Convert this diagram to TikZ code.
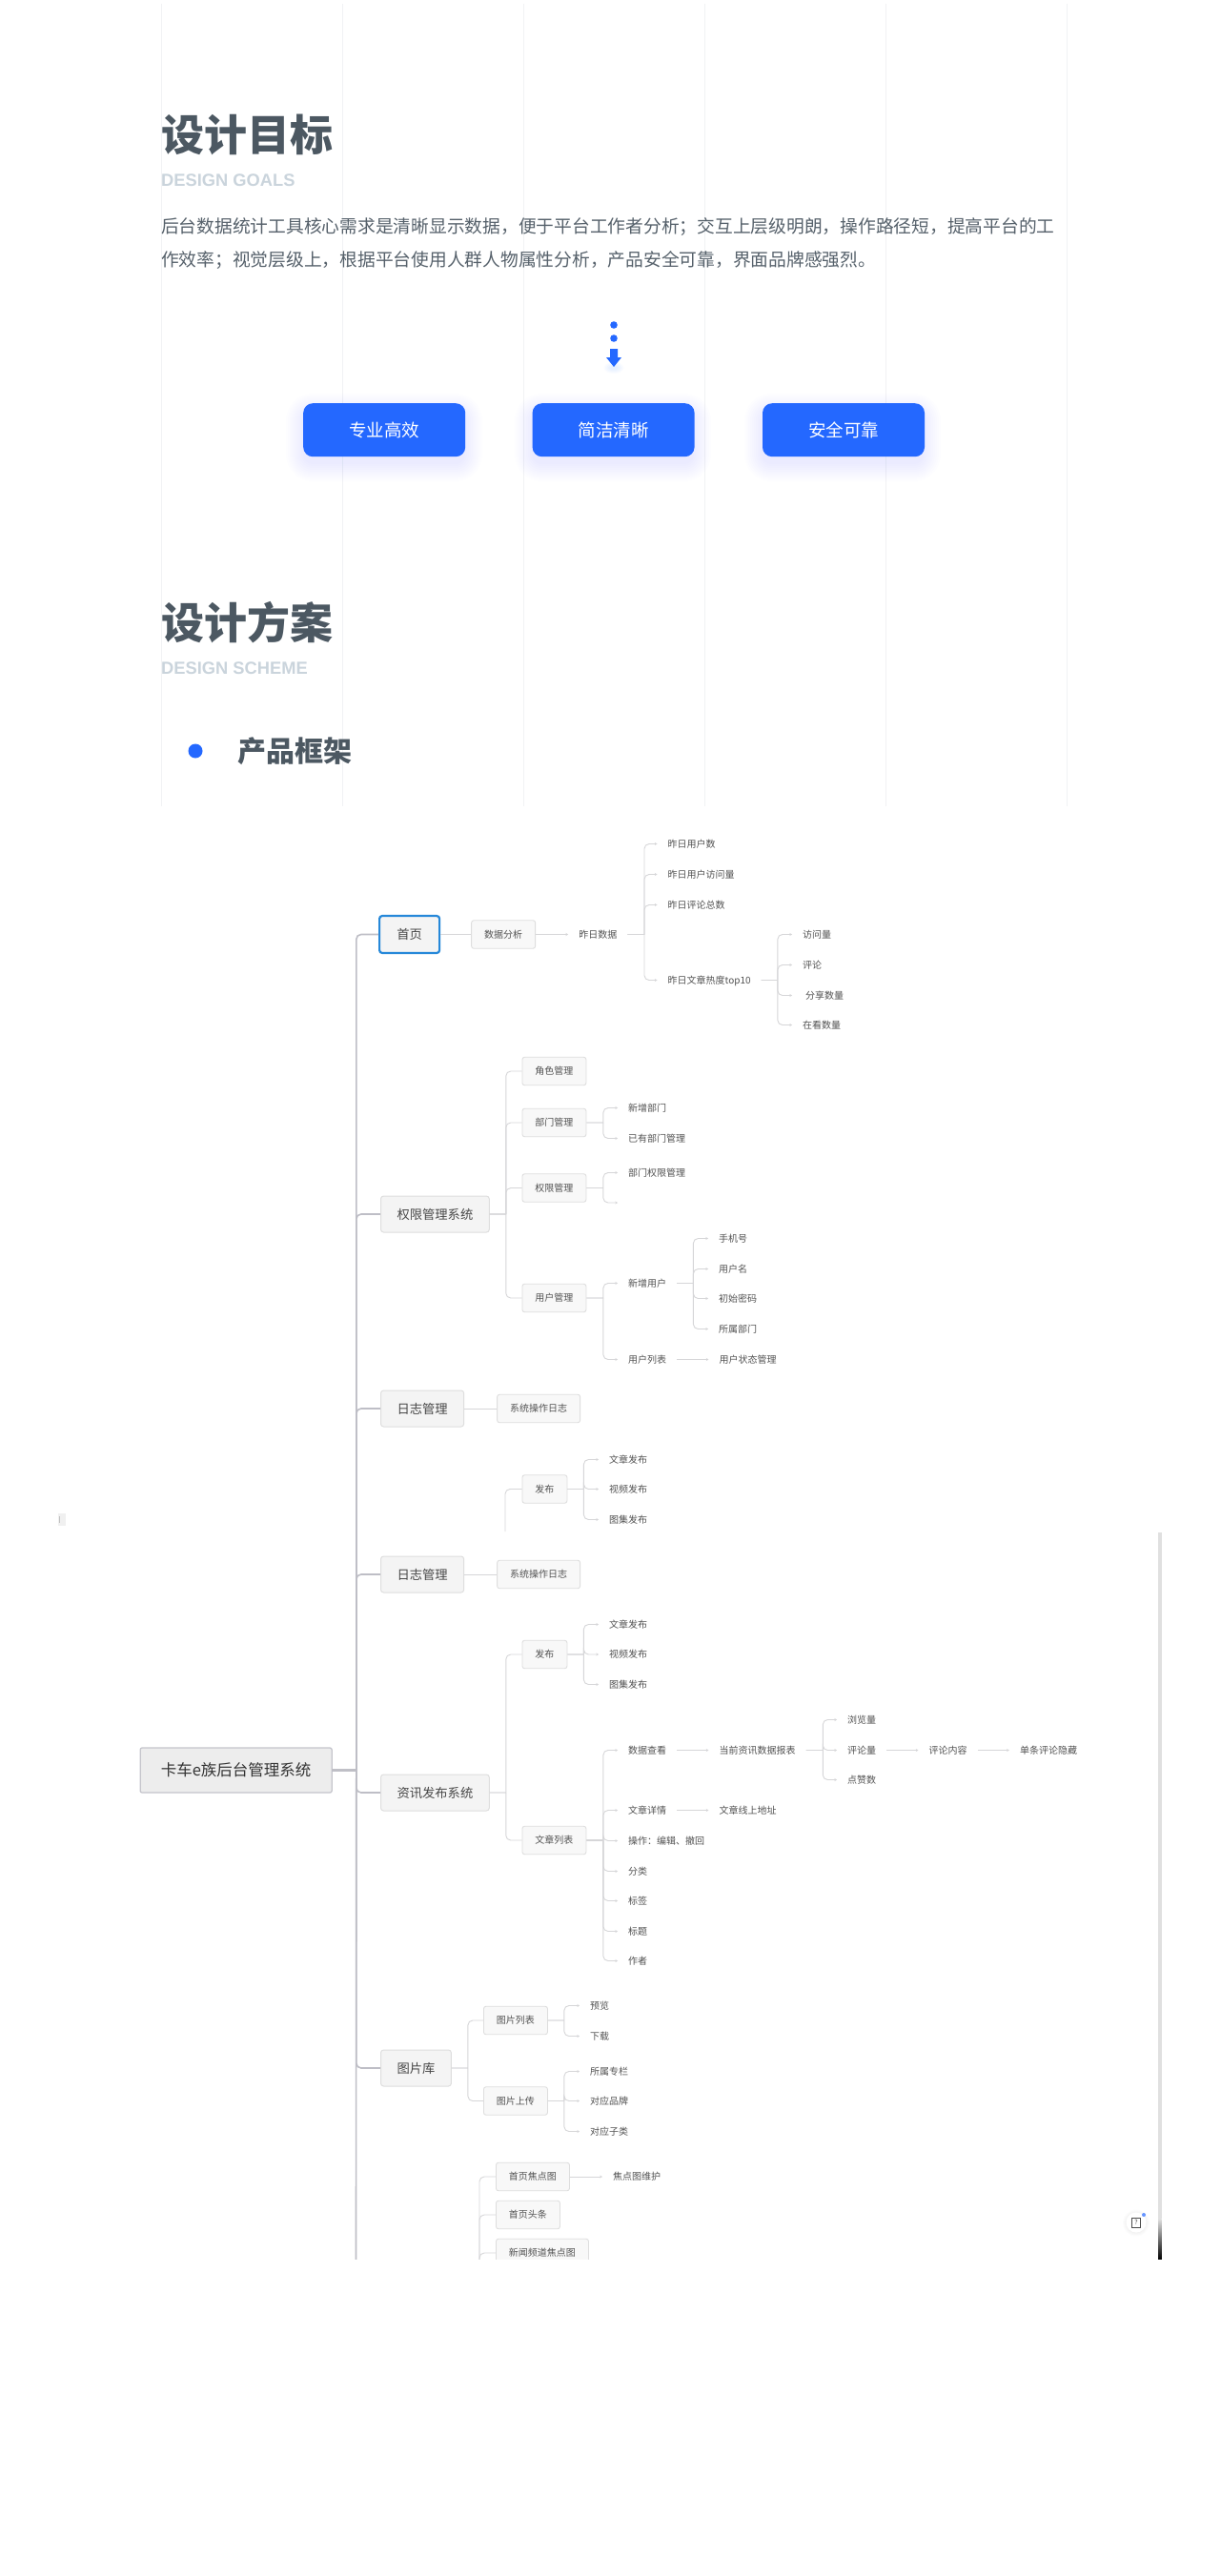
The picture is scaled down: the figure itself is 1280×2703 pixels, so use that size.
\documentclass[tikz,border=0pt]{standalone}
\usepackage{fontspec}
\setmainfont{Noto Sans CJK SC}
\newfontfamily\latinfont{Liberation Sans}
\usepackage{xcolor}
\usetikzlibrary{arrows.meta,positioning}
\definecolor{brandblue}{HTML}{2468FF}
\definecolor{titlegray}{HTML}{4C5862}
\definecolor{subgray}{HTML}{CAD4DC}
\definecolor{paragray}{HTML}{56616B}
\definecolor{gridgray}{HTML}{F1F2F4}
\definecolor{linegray}{HTML}{D6D6D8}
\definecolor{trunkgray}{HTML}{BEBEC6}
\definecolor{boxgray}{HTML}{F8F8F8}
\definecolor{sysgray}{HTML}{F4F4F4}
\definecolor{edgegray}{HTML}{DEDEDE}
\begin{document}
\begin{tikzpicture}[x=1pt,y=-1pt,>={Stealth[length=2.6pt,width=3pt]},font=\fontsize{10}{12}\selectfont]
  \tikzstyle{gridline}=[draw=gridgray,line width=0.8pt]
  \tikzstyle{heading}=[anchor=west,inner sep=0pt,text=titlegray,font=\fontsize{45}{50}\selectfont\bfseries]
  \tikzstyle{subheading}=[anchor=west,inner sep=0pt,text=subgray,font=\fontsize{18.3}{22}\selectfont\latinfont\bfseries]
  \tikzstyle{action}=[fill=brandblue,text=white,rounded corners=10pt,minimum width=170pt,minimum height=56pt,inner sep=0pt,font=\fontsize{18.5}{22}\selectfont]
  \tikzstyle{rootbox}=[anchor=west,draw=trunkgray!90,line width=1.3pt,fill=black!7,rounded corners=2pt,minimum width=201pt,minimum height=47pt,inner sep=0pt,text=black!80,font=\fontsize{16.5}{20}\selectfont]
  \tikzstyle{sysbox}=[anchor=west,draw=edgegray,line width=1pt,fill=sysgray,rounded corners=3pt,inner xsep=17pt,inner ysep=0pt,minimum height=38pt,text height=11.7pt,text depth=1.6pt,text=black!72,font=\fontsize{13.3}{16}\selectfont]
  \tikzstyle{modbox}=[anchor=west,draw=edgegray,line width=0.9pt,fill=boxgray,rounded corners=2.5pt,inner xsep=13.5pt,inner ysep=0pt,minimum height=29.5pt,text height=8.8pt,text depth=1.2pt,text=black!68]
  \tikzstyle{leaf}=[anchor=west,inner xsep=11pt,inner ysep=1pt,text height=8.8pt,text depth=1.2pt,text=black!68]
  \tikzstyle{plainline}=[-,draw=linegray,line width=0.9pt]
  \tikzstyle{tipline}=[->,draw=linegray,line width=0.9pt]
  \tikzset{
    fan/.style={plainline,to path={(\tikztostart.east) -- ++(#1,0) ++(0,0) [rounded corners=5pt] |- (\tikztotarget.west)}},
    fantip/.style={tipline,to path={(\tikztostart.east) -- ++(#1,0) ++(0,0) [rounded corners=5pt] |- (\tikztotarget.west)}},
    trunk/.style={fan=#1,draw=trunkgray,line width=1.6pt}
  }

  \useasboundingbox (0,0) rectangle (1280,2703);
  \fill[white] (0,0) rectangle (1280,2703);
  \foreach \gx in {169,359,549,739,929,1119}
    \draw[gridline] (\gx,4) -- (\gx,846);
  \fill[gray!12] (61,1588) rectangle (69,1601);
  \draw[gray!50,line width=0.7pt] (62,1591) -- (62,1598);

  \node[heading] (GOALS) at (169,141) {设计目标};
  \node[subheading] (GOALSEN) at (169,189) {DESIGN GOALS};
  \node[anchor=west,inner sep=0pt,align=left,text=paragray,font=\fontsize{18.75}{35}\selectfont] (INTRO) at (169,255.5)
    {后台数据统计工具核心需求是清晰显示数据，便于平台工作者分析；交互上层级明朗，操作路径短，提高平台的工\\
     作效率；视觉层级上，根据平台使用人群人物属性分析，产品安全可靠，界面品牌感强烈。};

  \fill[brandblue] (644,341) circle (3.8) (644,355) circle (3.8);
  \foreach \s in {5,4,3,2,1}
    \fill[brandblue,opacity=0.02] (644,386) ellipse ({3+1.5*\s} and {1+\s});
  \fill[brandblue] (640,366) -- (648,366) -- (648,375) -- (652,375) -- (644,385) -- (636,375) -- (640,375) -- cycle;

  \foreach \bx in {318,558,799}
    \foreach \s in {18,16,...,0}
      \fill[brandblue,opacity=0.009,rounded corners={(10+\s)*1pt}] (\bx-\s,423+8-\s) rectangle (\bx+170+\s,479+8+\s);
  \node[action,anchor=north west] (SPEED) at (318,423) {专业高效};
  \node[action,right=70pt of SPEED] (CLEAR) {简洁清晰};
  \node[action,right=71pt of CLEAR] (SAFE) {安全可靠};

  \node[heading] (SCHEME) at (169,653) {设计方案};
  \node[subheading] (SCHEMEEN) at (169,701.5) {DESIGN SCHEME};
  \fill[brandblue] (205,788) circle (7.5);
  \node[heading,font=\fontsize{30}{34}\selectfont\bfseries] (FRAME) at (249,788) {产品框架};

  \fill[black!12] (1215,1608) rectangle (1218.7,2328);
  \shade[top color=black!12,bottom color=black] (1215,2328) rectangle (1218.7,2371);
  \foreach \s in {4,3,2,1}
    \fill[black,opacity=0.012] (1192,2332.5) circle ({10+\s});
  \node[circle,fill=white,minimum size=21pt,inner sep=0pt] (HELP) at (1192,2332) {};
  \node[draw=black!70,line width=0.7pt,inner sep=0pt,minimum width=9pt,minimum height=10pt,text=black!70,font=\fontsize{7}{7}\selectfont] (HELPICON) at (HELP) {?};
  \fill[brandblue!70] (1200,2324) circle (2);

  \node[rootbox] (ROOT) at (146.5,1857.5) {卡车e族后台管理系统};

  \node[sysbox,draw=blue!45!cyan!70!gray,line width=2.2pt,fill=sysgray,minimum width=63pt,minimum height=39pt] (HOME) at (397,980.5) {首页};
  \node[modbox,right=32pt of HOME] (DATA) {数据分析};
  \node[leaf,right=34pt of DATA] (YDATA) {昨日数据};
  \node[leaf] (YUSER) at (689.5,885.5) {昨日用户数};
  \node[leaf] (YVISIT) at (689.5,917.5) {昨日用户访问量};
  \node[leaf] (YCOMM) at (689.5,949.5) {昨日评论总数};
  \node[leaf] (YTOP) at (689.5,1028.5) {昨日文章热度top10};
  \node[leaf] (TVIEW) at (831,980.5) {访问量};
  \node[leaf] (TCOMM) at (831,1012.5) {评论};
  \node[leaf] (TSHARE) at (831,1044.5) {\hspace{3pt}分享数量};
  \node[leaf] (TSEE) at (831,1075.5) {在看数量};

  \node[sysbox] (PERM) at (399,1274) {权限管理系统};
  \node[modbox] (ROLE) at (547.5,1124) {角色管理};
  \node[modbox] (DEPT) at (547.5,1178) {部门管理};
  \node[modbox] (RIGHTS) at (547.5,1246.5) {权限管理};
  \node[modbox] (USER) at (547.5,1362) {用户管理};
  \node[leaf] (NDEPT) at (648,1162.5) {新增部门};
  \node[leaf] (ODEPT) at (648,1194.5) {已有部门管理};
  \node[leaf] (DRIGHT) at (648,1230.5) {部门权限管理};
  \coordinate (BLANK) at (648,1262);
  \node[leaf] (NUSER) at (648,1346.5) {新增用户};
  \node[leaf] (LUSER) at (648,1426.5) {用户列表};
  \node[leaf] (PHONE) at (743,1299.5) {手机号};
  \node[leaf] (UNAME) at (743,1331.5) {用户名};
  \node[leaf] (PASSWD) at (743,1362.5) {初始密码};
  \node[leaf] (UDEPT) at (743,1394.5) {所属部门};
  \node[leaf,right=33pt of LUSER] (USTATE) {用户状态管理};

  \node[sysbox] (LOGA) at (399,1478) {日志管理};
  \node[modbox,right=34pt of LOGA] (LOGAOP) {系统操作日志};

  \node[modbox] (PUBA) at (547.5,1562.5) {发布};
  \coordinate (PUBTAIL) at (530,1607);
  \node[leaf] (APOST) at (628,1531.5) {文章发布};
  \node[leaf] (VPOST) at (628,1562.5) {视频发布};
  \node[leaf] (GPOST) at (628,1594.5) {图集发布};

  \node[sysbox] (LOGB) at (399,1652) {日志管理};
  \node[modbox,right=34pt of LOGB] (LOGBOP) {系统操作日志};

  \node[sysbox] (NEWS) at (399,1881) {资讯发布系统};
  \node[modbox] (PUBB) at (547.5,1736) {发布};
  \node[modbox] (ARTS) at (547.5,1931) {文章列表};
  \node[leaf] (APOSTB) at (628,1704.5) {文章发布};
  \node[leaf] (VPOSTB) at (628,1736) {视频发布};
  \node[leaf] (GPOSTB) at (628,1767.5) {图集发布};
  \node[leaf] (STATS) at (648,1836.5) {数据查看};
  \node[leaf] (DETAIL) at (648,1899.5) {文章详情};
  \node[leaf] (OPER) at (648,1931.5) {操作：编辑、撤回};
  \node[leaf] (SORT) at (648,1963.5) {分类};
  \node[leaf] (TAGS) at (648,1994.5) {标签};
  \node[leaf] (CAPTION) at (648,2026.5) {标题};
  \node[leaf] (WRITER) at (648,2057.5) {作者};
  \node[leaf,right=33pt of STATS] (REPORT) {当前资讯数据报表};
  \node[leaf,right=33pt of DETAIL] (URL) {文章线上地址};
  \node[leaf] (VIEWS) at (878,1804.5) {浏览量};
  \node[leaf] (CNT) at (878,1836.5) {评论量};
  \node[leaf] (LIKES) at (878,1867.5) {点赞数};
  \node[leaf,right=33pt of CNT] (CONTENT) {评论内容};
  \node[leaf,right=33pt of CONTENT] (HIDE) {单条评论隐藏};

  \node[sysbox] (GALLERY) at (399,2170) {图片库};
  \node[modbox] (PLIST) at (507,2120) {图片列表};
  \node[modbox] (PUP) at (507,2204.5) {图片上传};
  \node[leaf] (PREVIEW) at (608,2104.5) {预览};
  \node[leaf] (DOWNLOAD) at (608,2136.5) {下载};
  \node[leaf] (COLUMN) at (608,2173.5) {所属专栏};
  \node[leaf] (BRAND) at (608,2204.5) {对应品牌};
  \node[leaf] (SUBCAT) at (608,2236.5) {对应子类};

  \node[modbox] (FOCUS) at (520,2284) {首页焦点图};
  \node[modbox] (HEADLINE) at (520,2324) {首页头条};
  \node[modbox] (CHANNEL) at (520,2364) {新闻频道焦点图};
  \node[leaf,right=34pt of FOCUS] (FIX) {焦点图维护};
  \coordinate (LOWTAIL) at (503,2371);
  \coordinate (TRUNKEND) at (373.5,2371);

  \draw[trunkgray,line width=1.6pt] (ROOT.east) -- ++(25,0) -- (TRUNKEND);
  \path (ROOT) edge[trunk=25] (HOME)
        (ROOT) edge[trunk=25] (PERM)
        (ROOT) edge[trunk=25] (LOGA)
        (ROOT) edge[trunk=25] (LOGB)
        (ROOT) edge[trunk=25] (NEWS)
        (ROOT) edge[trunk=25] (GALLERY);

  \path (HOME) edge[plainline] (DATA)
        (DATA) edge[tipline] (YDATA)
        (YDATA) edge[fantip=17.5] (YUSER)
        (YDATA) edge[fantip=17.5] (YVISIT)
        (YDATA) edge[fantip=17.5] (YCOMM)
        (YDATA) edge[fantip=17.5] (YTOP)
        (YTOP) edge[fantip=17] (TVIEW)
        (YTOP) edge[fantip=17] (TCOMM)
        (YTOP) edge[fantip=17] (TSHARE)
        (YTOP) edge[fantip=17] (TSEE);

  \path (PERM) edge[fan=17] (ROLE)
        (PERM) edge[fan=17] (DEPT)
        (PERM) edge[fan=17] (RIGHTS)
        (PERM) edge[fan=17] (USER)
        (DEPT) edge[fantip=17.5] (NDEPT)
        (DEPT) edge[fantip=17.5] (ODEPT)
        (RIGHTS) edge[fantip=17.5] (DRIGHT)
        (RIGHTS) edge[fantip=17.5] (BLANK)
        (USER) edge[fantip=17.5] (NUSER)
        (USER) edge[fantip=17.5] (LUSER)
        (NUSER) edge[fantip=17] (PHONE)
        (NUSER) edge[fantip=17] (UNAME)
        (NUSER) edge[fantip=17] (PASSWD)
        (NUSER) edge[fantip=17] (UDEPT)
        (LUSER) edge[tipline] (USTATE);

  \path (LOGA) edge[plainline] (LOGAOP)
        (LOGB) edge[plainline] (LOGBOP);

  \draw[plainline,rounded corners=5pt] (PUBTAIL) |- (PUBA.west);
  \path (PUBA) edge[fantip=17] (APOST)
        (PUBA) edge[fantip=17] (VPOST)
        (PUBA) edge[fantip=17] (GPOST);

  \path (NEWS) edge[fan=17] (PUBB)
        (NEWS) edge[fan=17] (ARTS)
        (PUBB) edge[fantip=17] (APOSTB)
        (PUBB) edge[fantip=17] (VPOSTB)
        (PUBB) edge[fantip=17] (GPOSTB)
        (ARTS) edge[fantip=17.5] (STATS)
        (ARTS) edge[fantip=17.5] (DETAIL)
        (ARTS) edge[fantip=17.5] (OPER)
        (ARTS) edge[fantip=17.5] (SORT)
        (ARTS) edge[fantip=17.5] (TAGS)
        (ARTS) edge[fantip=17.5] (CAPTION)
        (ARTS) edge[fantip=17.5] (WRITER)
        (STATS) edge[tipline] (REPORT)
        (DETAIL) edge[tipline] (URL)
        (REPORT) edge[fantip=17.5] (VIEWS)
        (REPORT) edge[fantip=17.5] (CNT)
        (REPORT) edge[fantip=17.5] (LIKES)
        (CNT) edge[tipline] (CONTENT)
        (CONTENT) edge[tipline] (HIDE);

  \path (GALLERY) edge[fan=17] (PLIST)
        (GALLERY) edge[fan=17] (PUP)
        (PLIST) edge[fantip=17] (PREVIEW)
        (PLIST) edge[fantip=17] (DOWNLOAD)
        (PUP) edge[fantip=17] (COLUMN)
        (PUP) edge[fantip=17] (BRAND)
        (PUP) edge[fantip=17] (SUBCAT);

  \draw[plainline,rounded corners=5pt] (LOWTAIL) |- (FOCUS.west);
  \draw[plainline,rounded corners=5pt] (LOWTAIL) |- (HEADLINE.west);
  \draw[plainline,rounded corners=5pt] (LOWTAIL) |- (CHANNEL.west);
  \path (FOCUS) edge[tipline] (FIX);

  \fill[white] (0,2371) rectangle (1280,2703);
\end{tikzpicture}
\end{document}
